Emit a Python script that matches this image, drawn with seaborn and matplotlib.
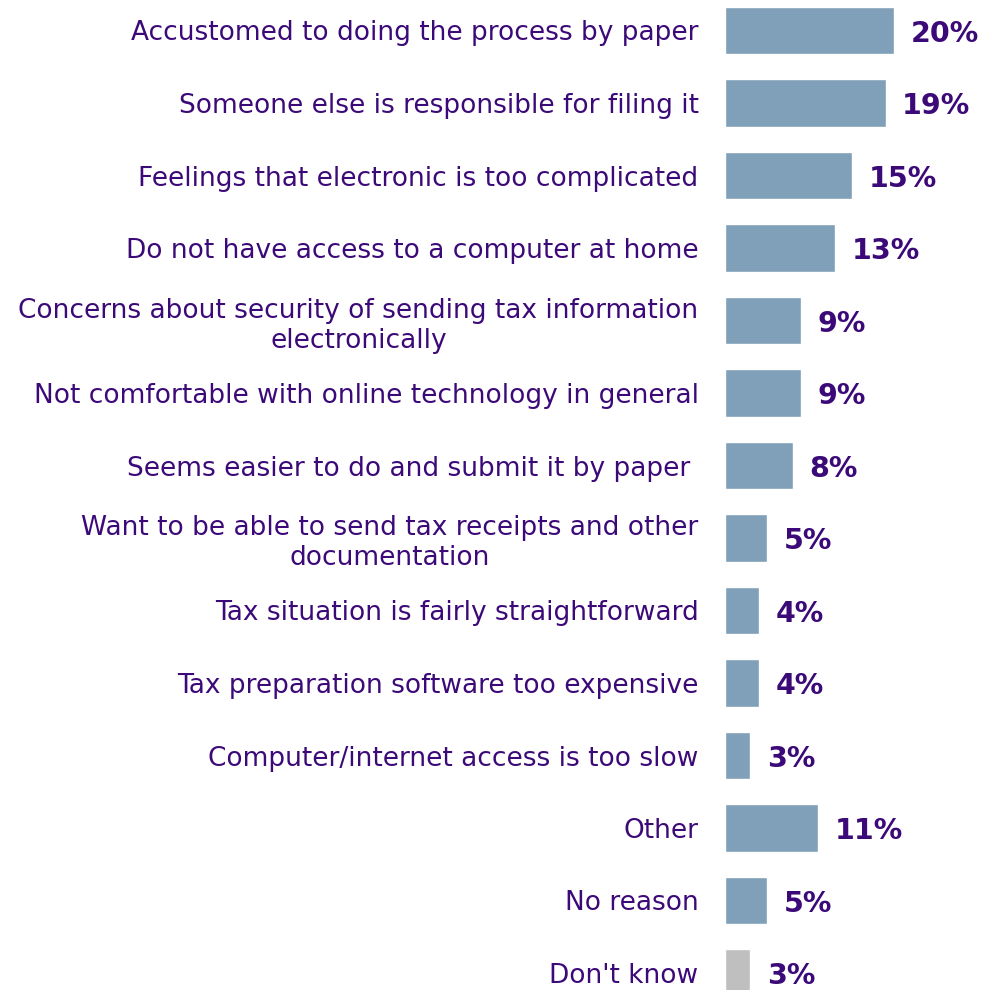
import matplotlib
matplotlib.use("Agg")
import matplotlib.pyplot as plt
import seaborn as sns
import pandas as pd

reasons = [
    "Accustomed to doing the process by paper",
    "Someone else is responsible for filing it",
    "Feelings that electronic is too complicated",
    "Do not have access to a computer at home",
    "Concerns about security of sending tax information\nelectronically",
    "Not comfortable with online technology in general",
    "Seems easier to do and submit it by paper ",
    "Want to be able to send tax receipts and other\ndocumentation",
    "Tax situation is fairly straightforward",
    "Tax preparation software too expensive",
    "Computer/internet access is too slow",
    "Other",
    "No reason",
    "Don't know",
]
percent = [20, 19, 15, 13, 9, 9, 8, 5, 4, 4, 3, 11, 5, 3]
group = ["reason"] * 13 + ["dk"]

BLUE = "#7FA0B8"
GREY = "#BFBFBF"
PURPLE = "#3C0A78"

df = pd.DataFrame({"reason": reasons, "percent": percent, "group": group})

sns.set_theme(style="white")
plt.rcParams["font.family"] = ["DejaVu Sans"]

fig = plt.figure(figsize=(9.83, 9.90), dpi=100)
ax = fig.add_axes([725 / 983, 0, 258 / 983, 1])

sns.barplot(data=df, x="percent", y="reason", hue="group",
            palette={"reason": BLUE, "dk": GREY}, orient="h",
            width=0.65, legend=False, dodge=False, ax=ax, saturation=1)

ax.set_xlim(0, 258 / 8.45)
ax.set_ylim(13 + (990 - 30.5 - 13 * 72.5) / 72.5, -30.5 / 72.5)

for cont in ax.containers:
    anns = ax.bar_label(cont, labels=[f"{v:.0f}%" for v in cont.datavalues],
                        padding=12, color=PURPLE, fontsize=20.5,
                        fontweight="bold")
    for a in anns:
        a.xyann = (12, -2.5)

ax.set_xlabel("")
ax.set_ylabel("")
ax.set_xticks([])
ax.tick_params(axis="y", length=0, pad=19, labelsize=19, labelcolor=PURPLE)
for lab in ax.get_yticklabels():
    lab.set_multialignment("center")
for s in ax.spines.values():
    s.set_visible(False)

fig.savefig("out.png", dpi=100)
